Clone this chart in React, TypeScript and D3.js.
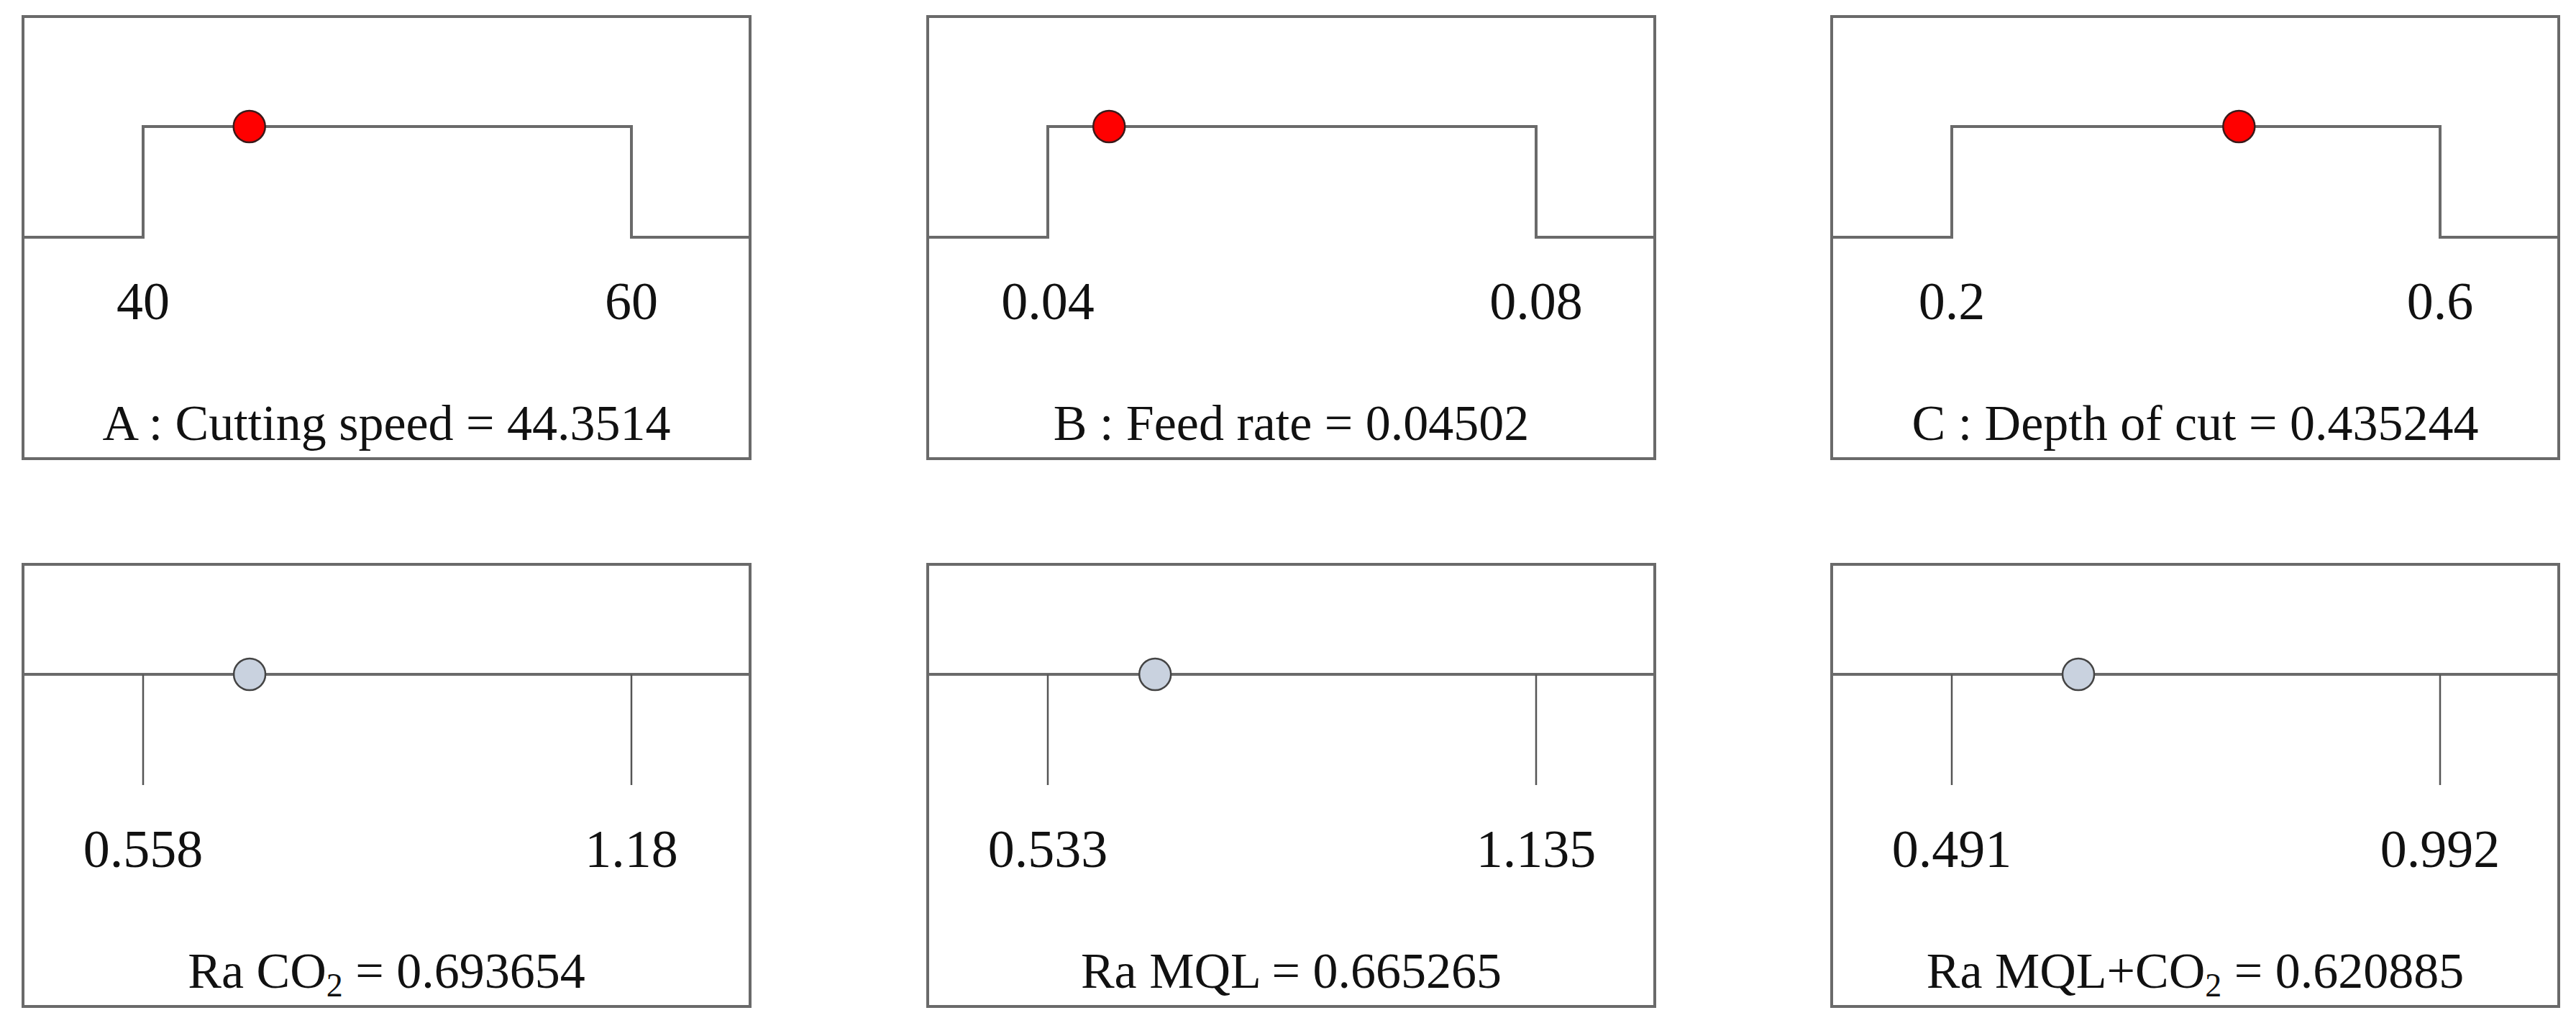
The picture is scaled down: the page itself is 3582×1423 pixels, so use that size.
import * as d3 from "d3";

// factor panels (top row)
const factorNames = ["A : Cutting speed", "B : Feed rate", "C : Depth of cut"];
const factorLow = [40, 0.04, 0.2];
const factorHigh = [60, 0.08, 0.6];
const factorLowLabels = ["40", "0.04", "0.2"];
const factorHighLabels = ["60", "0.08", "0.6"];
const factorValues = [44.3514, 0.04502, 0.435244];
const factorValueLabels = ["44.3514", "0.04502", "0.435244"];

// response panels (bottom row)
const responseNames = ["Ra CO", "Ra MQL", "Ra MQL+CO"];
const responseSubs = ["2", "", "2"];
const responseLow = [0.558, 0.533, 0.491];
const responseHigh = [1.18, 1.135, 0.992];
const responseLowLabels = ["0.558", "0.533", "0.491"];
const responseHighLabels = ["1.18", "1.135", "0.992"];
const responseValues = [0.693654, 0.665265, 0.620885];
const responseValueLabels = ["0.693654", "0.665265", "0.620885"];

const W = 3582;
const H = 1423;
const panelX = [32, 1290, 2547];
const rowY = [23, 785];
const pw = 1011;
const ph = 615;
const hiY = 153;
const loY = 307;
const FONT = "'Liberation Serif', 'Times New Roman', serif";
const LINE = "#6a6a6a";

const Panel = ({ x0, y0, lo, hi, loLabel, hiLabel, value, title, sub, valueLabel, kind }) => {
  const x = d3.scaleLinear().domain([lo, hi]).range([167, 846]);
  const line = d3.line();
  const stepPts: [number, number][] = [
    [0, loY],
    [x(lo), loY],
    [x(lo), hiY],
    [x(hi), hiY],
    [x(hi), loY],
    [pw, loY],
  ];
  return (
    <g transform={`translate(${x0},${y0})`}>
      <rect x={0} y={0} width={pw} height={ph} fill="#fff" stroke={LINE} strokeWidth={4} />
      {kind === "factor" ? (
        <path d={line(stepPts) || ""} fill="none" stroke={LINE} strokeWidth={4} />
      ) : (
        <g>
          <line x1={0} x2={pw} y1={hiY} y2={hiY} stroke={LINE} strokeWidth={4} />
          <line x1={x(lo)} x2={x(lo)} y1={hiY} y2={loY} stroke="#555" strokeWidth={2.5} />
          <line x1={x(hi)} x2={x(hi)} y1={hiY} y2={loY} stroke="#555" strokeWidth={2.5} />
        </g>
      )}
      <circle
        cx={x(value)}
        cy={hiY}
        r={22}
        fill={kind === "factor" ? "#ff0000" : "#c9d2df"}
        stroke={kind === "factor" ? "#3a1a1a" : "#444"}
        strokeWidth={2.5}
      />
      <text x={x(lo)} y={421} textAnchor="middle" fontFamily={FONT} fontSize={74} fill="#111">
        {loLabel}
      </text>
      <text x={x(hi)} y={421} textAnchor="middle" fontFamily={FONT} fontSize={74} fill="#111">
        {hiLabel}
      </text>
      <text x={pw / 2} y={589} textAnchor="middle" fontFamily={FONT} fontSize={70} fill="#111">
        {title}
        {sub ? (
          <tspan fontSize={46} dy={12}>
            {sub}
          </tspan>
        ) : null}
        <tspan dy={sub ? -12 : 0}>{` = ${valueLabel}`}</tspan>
      </text>
    </g>
  );
};

export default function App() {
  return (
    <svg width={W} height={H} style={{ position: "absolute", left: 0, top: 0, background: "#fff" }}>
      <rect width={W} height={H} fill="#fff" />
      {factorNames.map((n, i) => (
        <Panel
          key={n}
          kind="factor"
          x0={panelX[i]}
          y0={rowY[0]}
          lo={factorLow[i]}
          hi={factorHigh[i]}
          loLabel={factorLowLabels[i]}
          hiLabel={factorHighLabels[i]}
          value={factorValues[i]}
          valueLabel={factorValueLabels[i]}
          title={n}
          sub=""
        />
      ))}
      {responseNames.map((n, i) => (
        <Panel
          key={n}
          kind="response"
          x0={panelX[i]}
          y0={rowY[1]}
          lo={responseLow[i]}
          hi={responseHigh[i]}
          loLabel={responseLowLabels[i]}
          hiLabel={responseHighLabels[i]}
          value={responseValues[i]}
          valueLabel={responseValueLabels[i]}
          title={n}
          sub={responseSubs[i]}
        />
      ))}
    </svg>
  );
}
